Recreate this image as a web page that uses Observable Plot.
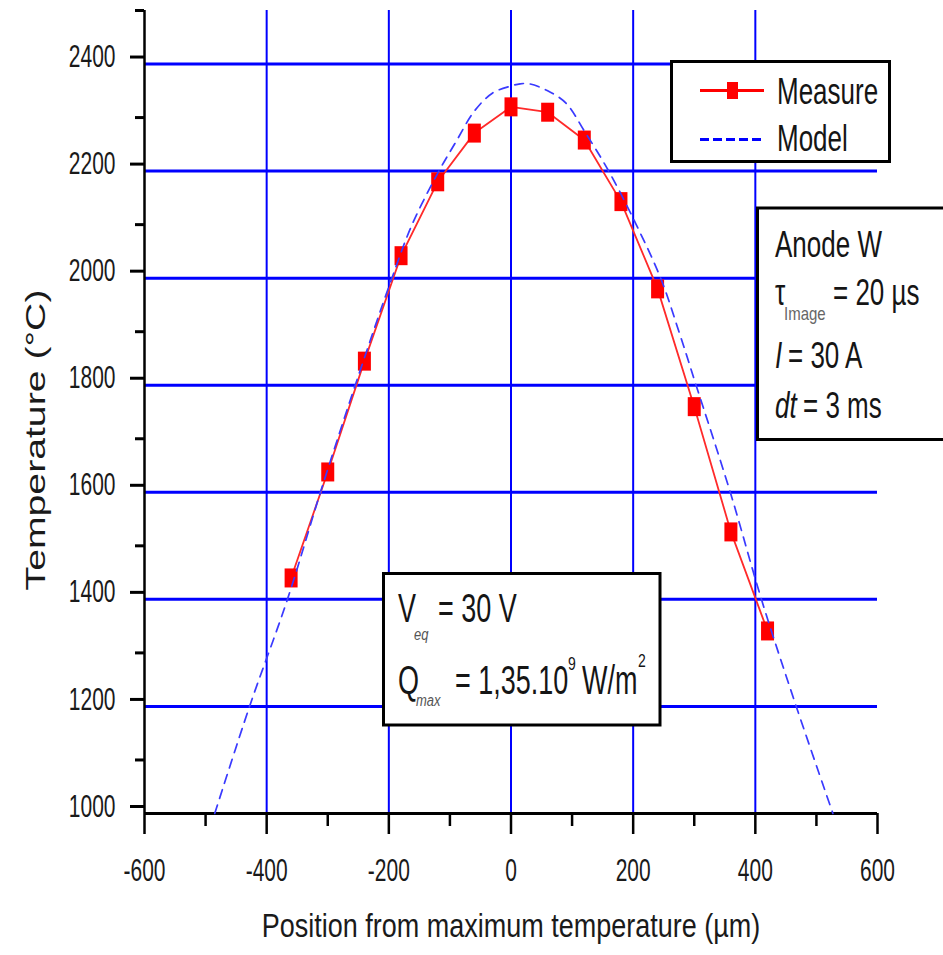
<!DOCTYPE html>
<html><head><meta charset="utf-8">
<script src="https://cdn.jsdelivr.net/npm/d3@7"></script>
<script src="https://cdn.jsdelivr.net/npm/@observablehq/plot@0.6"></script>
<style>html,body{margin:0;padding:0;background:#fff;overflow:hidden}#chart{position:relative;width:943px;height:955px}</style>
</head><body><div id="chart"></div>
<script>
// ---- data ----
const measureX = [-360,-300,-240,-180,-120,-60,0,60,120,180,240,300,360,420];
const measureT = [1440,1638,1845,2042,2180,2271,2320,2310,2258,2143,1980,1760,1526,1341];
const modelX = [-485,-428,-366,-312,-255,-195,-162,-118,-90,-60,-30,0,15,30,60,90,120,160,205,245,275,303,359,410,467,527];
const modelT = [1000,1200,1400,1600,1800,2000,2100,2200,2255,2312,2346,2359,2363,2363,2350,2327,2275,2200,2100,2000,1900,1800,1600,1400,1200,1000];
const xTicks = [-600,-400,-200,0,200,400,600];
const xMinorTicks = [-500,-300,-100,100,300,500];
const yTicks = [1000,1200,1400,1600,1800,2000,2200,2400];
const yMinorTicks = [1100,1300,1500,1700,1900,2100,2300,2500];
const xGrid = [-400,-200,0,200,400];
const yGrid = [1200,1400,1600,1800,2000,2200,2400];
const seriesNames = ["Measure","Model"];
const xLabel = "Position from maximum temperature (µm)";
const yLabel = "Temperature (°C)";

const measure = measureX.map((x,i)=>({x, y: measureT[i]}));
const model = modelX.map((x,i)=>({x, y: modelT[i]}));

const FONT = '"Liberation Sans", Arial, sans-serif';
const rectSymbol = {draw(ctx){ctx.moveTo(-6.5,-9.5);ctx.lineTo(6.5,-9.5);ctx.lineTo(6.5,9.5);ctx.lineTo(-6.5,9.5);ctx.closePath();}};

const chart = Plot.plot({
  width: 943, height: 955,
  marginLeft: 144, marginRight: 66, marginTop: 10, marginBottom: 142,
  x: {domain: [-600, 600], label: null},
  y: {domain: [1000, 2500], label: null},
  style: {fontFamily: FONT, background: "#fff", color: "#111"},
  marks: [
    Plot.ruleY(yGrid, {stroke: "#0000ff", strokeWidth: 3}),
    Plot.ruleX(xGrid, {stroke: "#0000ff", strokeWidth: 2}),
    Plot.ruleX([-600], {stroke: "#000", strokeWidth: 2.5}),
    Plot.ruleY([1000], {stroke: "#000", strokeWidth: 3}),
    Plot.axisY(yTicks, {tickSize: 14, tickPadding: 15, strokeWidth: 3, stroke: "#000", fill: "#1a1a1a", fontSize: 21, dy: -7, tickFormat: d => String(d)}),
    Plot.axisY(yMinorTicks, {tickSize: 9, strokeWidth: 3, stroke: "#000", fill: "none"}),
    Plot.axisX(xTicks, {tickSize: 21, tickPadding: 24, strokeWidth: 2.5, stroke: "#000", fill: "#1a1a1a", fontSize: 21, tickFormat: d => String(d)}),
    Plot.axisX(xMinorTicks, {tickSize: 13, strokeWidth: 2.5, stroke: "#000", fill: "none"}),
    Plot.line(measure, {x: "x", y: "y", stroke: "#ff2a2a", strokeWidth: 1.8}),
    Plot.dot(measure, {x: "x", y: "y", symbol: rectSymbol, r: 5, fill: "#ff0000", stroke: "none"}),
    Plot.line(model, {x: "x", y: "y", stroke: "#3a3aff", strokeWidth: 1.7, strokeDasharray: "9,7", curve: "catmull-rom"})
  ]
});
document.getElementById("chart").appendChild(chart);

const svg = d3.select(chart);
// vertical stretch of tick labels (as in the reference)
svg.selectAll('g[aria-label="y-axis tick label"] text, g[aria-label="x-axis tick label"] text')
  .attr("transform", function(){ return (this.getAttribute("transform")||"") + " scale(1,1.5)"; });

// ---- labels and annotation boxes ----
const ann = svg.append("g").attr("font-family", FONT).attr("text-anchor", "start");
function txt(x, y, s, o = {}) {
  const {size = 26, sy = 1.45, sx = 1, italic = false, fill = "#151515", anchor = "start", rotate = 0} = o;
  ann.append("text")
    .attr("transform", `translate(${x},${y})${rotate ? ` rotate(${rotate})` : ""} scale(${sx},${sy})`)
    .attr("font-size", size).attr("font-style", italic ? "italic" : null)
    .attr("text-anchor", anchor).attr("fill", fill).text(s);
}
function box(x, y, w, h) {
  ann.append("rect").attr("x", x).attr("y", y).attr("width", w).attr("height", h)
    .attr("fill", "#fff").attr("stroke", "#000").attr("stroke-width", 3);
}
// axis titles
txt(511, 937, xLabel, {size: 27, sy: 1.2, anchor: "middle", fill: "#1a1a1a"});
txt(45, 440, yLabel, {size: 28, sy: 1, sx: 1.4, anchor: "middle", rotate: -90, fill: "#1a1a1a"});

// legend
box(671.5, 61.5, 218, 100);
ann.append("line").attr("x1", 700).attr("x2", 764).attr("y1", 90.5).attr("y2", 90.5).attr("stroke", "#ff0000").attr("stroke-width", 3);
ann.append("rect").attr("x", 727).attr("y", 82).attr("width", 11).attr("height", 17).attr("fill", "#ff0000");
txt(777, 104, seriesNames[0]);
ann.append("line").attr("x1", 700).attr("x2", 762).attr("y1", 139.5).attr("y2", 139.5).attr("stroke", "#0000ff").attr("stroke-width", 3).attr("stroke-dasharray", "9,4");
txt(777, 151, seriesNames[1]);

// Anode box
box(757.5, 208, 200, 231.5);
txt(775, 257, "Anode W");
txt(775, 305, "τ");
txt(784, 320, "Image", {size: 15, sy: 1.25, fill: "#666"});
txt(833, 305, "= 20 µs");
txt(775, 368, "I", {italic: true});
txt(788, 368, "= 30 A");
txt(775, 418, "dt", {italic: true});
txt(803, 418, "= 3 ms");

// Veq / Qmax box
box(383.5, 573.5, 276.5, 151.5);
txt(398, 622, "V", {size: 27, sy: 1.5});
txt(414, 640, "eq", {size: 13, sy: 1.3, italic: true, fill: "#555"});
txt(438, 622, "= 30 V", {size: 27, sy: 1.5});
txt(398, 694, "Q", {size: 27, sy: 1.5});
txt(416, 706, "max", {size: 13, sy: 1.3, italic: true, fill: "#555"});
txt(455, 694, "= 1,35.10", {size: 27, sy: 1.5});
txt(568, 670, "9", {size: 14, sy: 1.3});
txt(582, 694, "W/m", {size: 27, sy: 1.5});
txt(638, 667, "2", {size: 14, sy: 1.3});
</script>
</body></html>
